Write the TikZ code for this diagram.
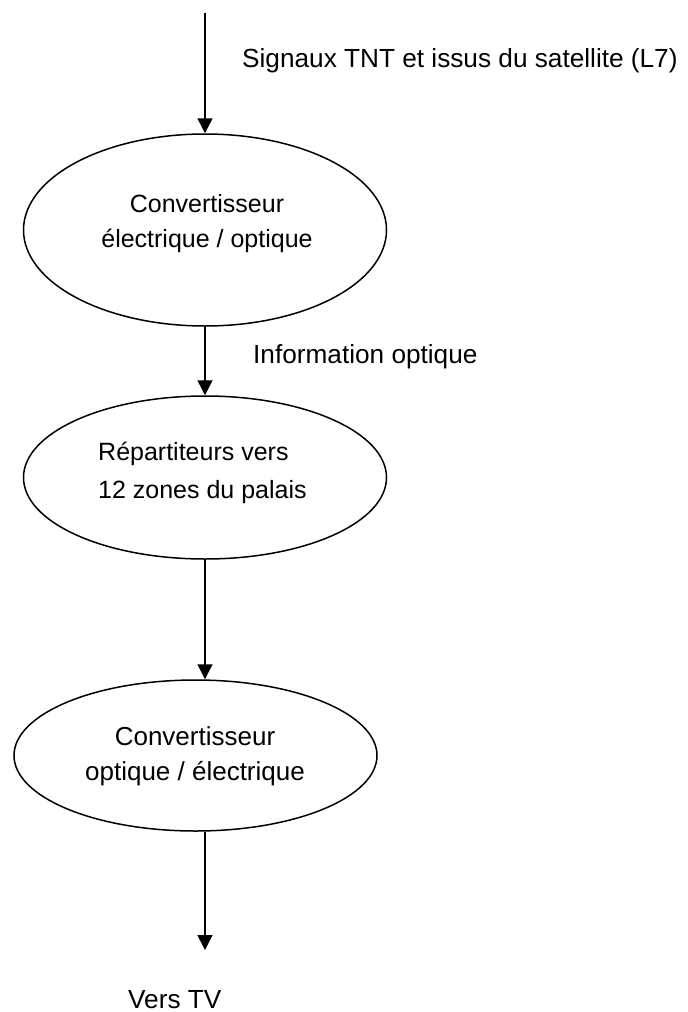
\documentclass[tikz,border=0pt]{standalone}
\usepackage{fontspec}
\setmainfont{Liberation Sans}
\usetikzlibrary{shapes.geometric,arrows.meta}
\tikzset{
  oval/.style={draw, ellipse, line width=1.5pt, inner sep=0pt, minimum width=363pt},
  flow/.style={line width=1.5pt, -{Triangle[width=15pt,length=15pt]}},
  inner/.style={inner sep=0pt, font=\fontsize{25}{35}\selectfont},
  lbl/.style={inner sep=0pt, anchor=base west, font=\fontsize{26.2}{31}\selectfont}
}
\begin{document}
\begin{tikzpicture}[x=1pt,y=-1pt]
\useasboundingbox (0,0) rectangle (688,1012);
\coordinate (start) at (205,13);
\node[oval, minimum height=192pt] (e1) at (205,230) {};
\node[oval, minimum height=163pt] (e2) at (205,477.5) {};
\node[oval, minimum height=151pt] (e3) at (195.5,755.5) {};
\coordinate (finish) at (205,950);

\node[inner, align=center] (t1) at (207,224) {Convertisseur\\électrique / optique};
\node[inner, align=left, anchor=west, font=\fontsize{25}{38}\selectfont] (t2) at (98,472.5) {Répartiteurs vers\\12 zones du palais};
\node[inner, align=center, font=\fontsize{26}{35}\selectfont] (t3) at (195,756) {Convertisseur\\optique / électrique};

\node[lbl] (l1) at (242,67) {Signaux TNT et issus du satellite (L7)};
\node[lbl] (l2) at (253,363) {Information optique};
\node[lbl] (l3) at (128,1008) {Vers TV};

\draw[flow] (start) -- (e1.north);
\draw[flow] (e1.south) -- (e2.north);
\draw[flow] (e2.south) -- (e2.south |- e3.north);
\draw[flow] (e2.south |- e3.south) -- (finish);
\end{tikzpicture}
\end{document}
